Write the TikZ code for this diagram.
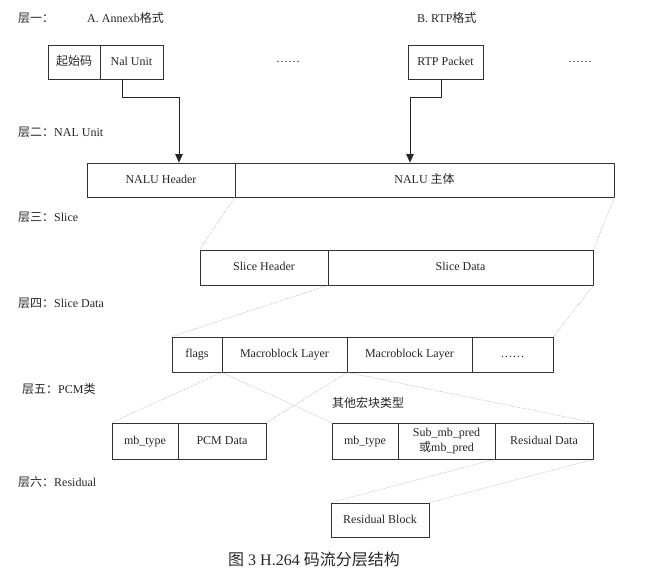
\documentclass[tikz,border=0pt]{standalone}
\usepackage{fontspec}
\setmainfont{Liberation Serif}
\newfontfamily\cjk{Noto Sans CJK SC}
\usetikzlibrary{arrows.meta}

\begin{document}
\begin{tikzpicture}[x=1pt, y=-1pt,
  every node/.style={font=\fontsize{12}{15}\selectfont, text=black!85},
  frame/.style={draw=black!80, line width=0.8pt, minimum height=34pt, inner sep=0pt},
  box/.style={frame, text height=8.5pt, text depth=2.5pt},
  link/.style={draw=gray!80, densely dotted, line width=0.5pt},
  flow/.style={draw=black!85, line width=0.8pt, -{Triangle[width=7.5pt,length=8.5pt]}},
  layer/.style={anchor=west, inner sep=0pt}]

\useasboundingbox (0,0) rectangle (650,579);

\node[layer] (l1) at (18,18) {{\cjk 层一：}};
\node[layer] (fmta) at (87,18) {A. Annexb{\cjk 格式}};
\node[layer] (fmtb) at (417,18) {B. RTP{\cjk 格式}};
\node[layer] (l2) at (18,132) {{\cjk 层二：}NAL Unit};
\node[layer] (l3) at (18,217) {{\cjk 层三：}Slice};
\node[layer] (l4) at (18,303) {{\cjk 层四：}Slice Data};
\node[layer] (l5) at (22,389) {{\cjk 层五：}PCM{\cjk 类}};
\node[layer] (l6) at (18,482) {{\cjk 层六：}Residual};
\node[layer] (other) at (332,403) {{\cjk 其他宏块类型}};

\node[box, minimum width=52pt] (start) at (74,62) {{\cjk 起始码}};
\node[box, minimum width=63pt] (nal) at (131.5,62) {Nal Unit};
\node (dotsa) at (288,62) {……};
\node[box, minimum width=75pt] (rtp) at (445.5,62) {RTP Packet};
\node (dotsb) at (580,62) {……};

\node[box, minimum width=148pt] (hdr) at (161,180) {NALU Header};
\node[box, minimum width=379pt] (body) at (424.5,180) {NALU {\cjk 主体}};

\node[box, minimum width=128pt, minimum height=35pt] (sh) at (264,267.5) {Slice Header};
\node[box, minimum width=265pt, minimum height=35pt] (sd) at (460.5,267.5) {Slice Data};

\node[box, minimum width=50pt, minimum height=35pt] (flags) at (197,354.5) {flags};
\node[box, minimum width=125pt, minimum height=35pt] (mba) at (284.5,354.5) {Macroblock Layer};
\node[box, minimum width=125pt, minimum height=35pt] (mbb) at (409.5,354.5) {Macroblock Layer};
\node[box, minimum width=81pt, minimum height=35pt] (more) at (512.5,354.5) {……};

\node[box, minimum width=66pt, minimum height=36pt] (pcmtype) at (145,441) {mb\_type};
\node[box, minimum width=88pt, minimum height=36pt] (pcmdata) at (222,441) {PCM Data};

\node[box, minimum width=66pt, minimum height=36pt] (mbtype) at (365,441) {mb\_type};
\node[frame, minimum width=97pt, minimum height=36pt, align=center] (pred) at (446.5,441) {Sub\_mb\_pred\\{\cjk 或}mb\_pred};
\node[box, minimum width=98pt, minimum height=36pt] (resdata) at (544,441) {Residual Data};

\node[box, minimum width=98pt] (resblock) at (380,520) {Residual Block};

\node[font=\fontsize{16}{19}\selectfont] (caption) at (314,559) {{\cjk 图} 3 H.264 {\cjk 码流分层结构}};

\draw[flow] ([xshift=-9.5pt]nal.south) -- ++(0,18) -| ([xshift=18pt]hdr.north);
\draw[flow] ([xshift=-4.5pt]rtp.south) -- ++(0,18) -| ([xshift=-14.5pt]body.north);

\draw[link] (body.south west) -- (sh.north west);
\draw[link] (body.south east) -- (sd.north east);
\draw[link] (sd.south west) -- (flags.north west);
\draw[link] (sd.south east) -- (more.north east);
\draw[link] (mba.south west) -- (pcmtype.north west);
\draw[link] (mba.south east) -- (pcmdata.north east);
\draw[link] (mba.south west) -- (mbtype.north west);
\draw[link] (mba.south east) -- (resdata.north east);
\draw[link] (resdata.south west) -- (resblock.north west);
\draw[link] (resdata.south east) -- (resblock.north east);

\end{tikzpicture}
\end{document}
